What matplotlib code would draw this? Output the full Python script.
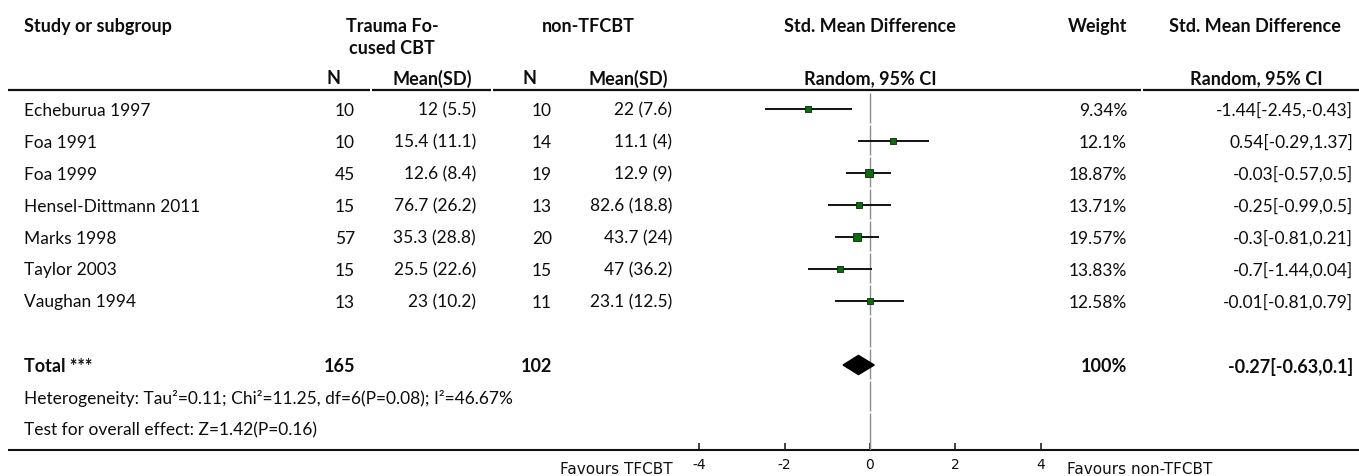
import matplotlib
matplotlib.use("Agg")
import matplotlib.pyplot as plt

# Meta-analysis data: Trauma Focused CBT vs non-TFCBT
studies = ["Echeburua 1997", "Foa 1991", "Foa 1999", "Hensel-Dittmann 2011",
           "Marks 1998", "Taylor 2003", "Vaughan 1994"]
n_tf = [10, 10, 45, 15, 57, 15, 13]
mean_tf = [12, 15.4, 12.6, 76.7, 35.3, 25.5, 23]
sd_tf = [5.5, 11.1, 8.4, 26.2, 28.8, 22.6, 10.2]
n_ctrl = [10, 14, 19, 13, 20, 15, 11]
mean_ctrl = [22, 11.1, 12.9, 82.6, 43.7, 47, 23.1]
sd_ctrl = [7.6, 4, 9, 18.8, 24, 36.2, 12.5]
smd = [-1.44, 0.54, -0.03, -0.25, -0.3, -0.7, -0.01]
ci_lo = [-2.45, -0.29, -0.57, -0.99, -0.81, -1.44, -0.81]
ci_hi = [-0.43, 1.37, 0.5, 0.5, 0.21, 0.04, 0.79]
weight = [9.34, 12.1, 18.87, 13.71, 19.57, 13.83, 12.58]

total_n_tf = 165
total_n_ctrl = 102
total_smd = -0.27
total_lo = -0.63
total_hi = 0.1
total_weight = 100

heterogeneity = "Heterogeneity: Tau\u00b2=0.11; Chi\u00b2=11.25, df=6(P=0.08); I\u00b2=46.67%"
overall = "Test for overall effect: Z=1.42(P=0.16)"
axis_ticks = [-4, -2, 0, 2, 4]

plt.rcParams["font.family"] = ["Lato", "DejaVu Sans"]
FS = 12.5
FS_BOLD = 13
W, H = 1359, 476

fig = plt.figure(figsize=(W / 100, H / 100), dpi=100)

# overlay in pixel units for the table text and rules
tab = fig.add_axes([0, 0, 1, 1])
tab.set_xlim(0, W)
tab.set_ylim(H, 0)
tab.axis("off")


def row_y(r):
    return 109 + 32 * r


def put(x, y, s, ha="left", bold=False):
    tab.text(x, y, s, ha=ha, va="center_baseline",
             fontsize=FS_BOLD if bold else FS,
             fontweight="bold" if bold else "normal", color="#0d0d0d")


# column anchors
X_STUDY = 24
X_N1, X_M1, X_N2, X_M2 = 355, 476, 552, 672
X_FOREST = 870
X_W = 1127
X_EFF = 1353

# headers
put(X_STUDY, 25, "Study or subgroup", bold=True)
put(392, 25, "Trauma Fo-", ha="center", bold=True)
put(392, 47, "cused CBT", ha="center", bold=True)
put(588, 25, "non-TFCBT", ha="center", bold=True)
put(X_FOREST, 25, "Std. Mean Difference", ha="center", bold=True)
put(X_W, 25, "Weight", ha="right", bold=True)
put(1255, 25, "Std. Mean Difference", ha="center", bold=True)
put(333, 77, "N", ha="center", bold=True)
put(432, 77, "Mean(SD)", ha="center", bold=True)
put(529, 77, "N", ha="center", bold=True)
put(628, 77, "Mean(SD)", ha="center", bold=True)
put(X_FOREST, 77, "Random, 95% CI", ha="center", bold=True)
put(1256, 77, "Random, 95% CI", ha="center", bold=True)

# rule under the header, broken at cell borders
for a, b in [(8, 370), (372, 491), (493, 1141), (1143, W)]:
    tab.hlines(90, a, b, color="#111111", lw=1.6)

# study rows
for i, name in enumerate(studies):
    y = row_y(i)
    put(X_STUDY, y, name)
    put(X_N1, y, str(n_tf[i]), ha="right")
    put(X_M1, y, f"{mean_tf[i]:g} ({sd_tf[i]:g})", ha="right")
    put(X_N2, y, str(n_ctrl[i]), ha="right")
    put(X_M2, y, f"{mean_ctrl[i]:g} ({sd_ctrl[i]:g})", ha="right")
    put(X_W, y, f"{weight[i]:g}%", ha="right")
    put(X_EFF, y, f"{smd[i]:g}[{ci_lo[i]:g},{ci_hi[i]:g}]", ha="right")

# total row
yt = row_y(8)
put(X_STUDY, yt, "Total ***", bold=True)
put(X_N1, yt, str(total_n_tf), ha="right", bold=True)
put(X_N2, yt, str(total_n_ctrl), ha="right", bold=True)
put(X_W, yt, f"{total_weight:g}%", ha="right", bold=True)
put(X_EFF, yt, f"{total_smd:g}[{total_lo:g},{total_hi:g}]", ha="right", bold=True)
put(X_STUDY, row_y(9), heterogeneity)
put(X_STUDY, row_y(10), overall)

# bottom rule / axis line
tab.hlines(450, 8, W, color="#111111", lw=1.5)
tab.text(673, 468, "Favours TFCBT", ha="right", va="center_baseline",
         fontsize=11, family="DejaVu Sans", color="#111111")
tab.text(1067, 468, "Favours non-TFCBT", ha="left", va="center_baseline",
         fontsize=11, family="DejaVu Sans", color="#111111")

# forest panel
fa = fig.add_axes([699 / W, 1 - 450 / H, (1041 - 699) / W, (450 - 90) / H])
fa.patch.set_alpha(0)
fa.set_xlim(axis_ticks[0], axis_ticks[-1])
fa.set_ylim((450 - 109) / 32, (90 - 109) / 32)
for sp in fa.spines.values():
    sp.set_visible(False)
fa.set_yticks([])
fa.set_xticks(axis_ticks)
fa.set_xticklabels([str(t) for t in axis_ticks], family="DejaVu Sans",
                   fontsize=10, color="#111111")
fa.tick_params(axis="x", direction="in", length=5, width=1.1, pad=6,
               color="#111111")

# line of no effect, drawn per row with small breaks
n_rows = 11
for r in range(n_rows):
    bottom = r + 0.44 if r < n_rows - 1 else fa.get_ylim()[0]
    fa.vlines(0, r - 0.5, bottom, color="#8c8c8c", lw=1)

for i in range(len(studies)):
    fa.hlines(i, ci_lo[i], ci_hi[i], color="black", lw=1.3, zorder=3)
    fa.scatter(smd[i], i, marker="s", s=weight[i] * 1.8, color="#0a6e0a",
               edgecolors="#0b2a0b", linewidths=0.6, zorder=4)

# pooled estimate
fa.fill([total_lo, total_smd, total_hi, total_smd],
        [8, 8 - 0.3, 8, 8 + 0.3], color="black", zorder=4)

fig.savefig("out.png", dpi=100)
